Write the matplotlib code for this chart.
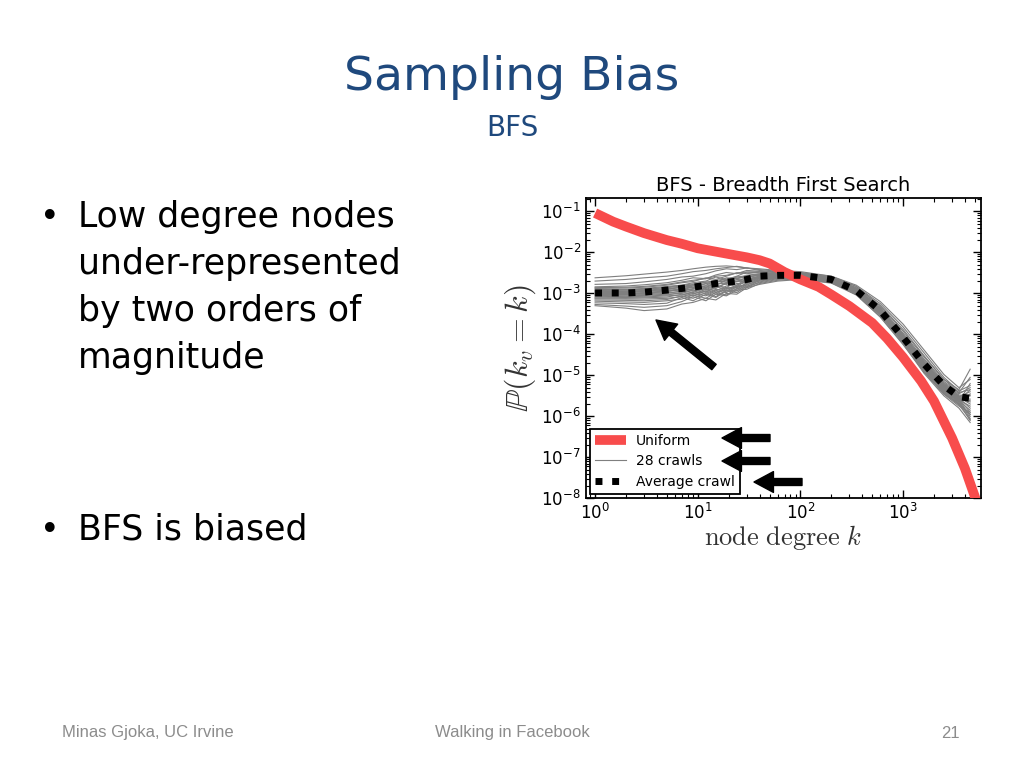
import matplotlib
matplotlib.use('Agg')
import matplotlib.pyplot as plt
import numpy as np

# ---------------- data (log10 of P) ----------------
k_uniform = [1, 1.5, 2, 3, 5, 7, 10, 20, 30, 40, 50, 70, 100, 150, 200, 300,
             500, 700, 1000, 1500, 2000, 3000, 4000, 5000, 5500]
logp_uniform = [-1.04, -1.25, -1.37, -1.53, -1.70, -1.79, -1.90, -2.04, -2.12, -2.19,
                -2.27, -2.48, -2.66, -2.84, -3.03, -3.31, -3.72, -4.10, -4.56, -5.14,
                -5.63, -6.53, -7.27, -7.96, -8.30]

k_crawl = [1, 2, 3, 5, 7, 9, 12, 15, 19, 24, 30, 40, 60, 100, 200, 350, 600,
           1000, 1600, 2500, 3500, 4500]
logp_average = [-2.99, -2.99, -2.97, -2.92, -2.88, -2.85, -2.80, -2.76, -2.73, -2.70,
                -2.66, -2.58, -2.56, -2.56, -2.66, -2.93, -3.42, -4.07, -4.72, -5.25,
                -5.52, -5.56]

logp_crawls = [
    [-2.62, -2.57, -2.53, -2.48, -2.44, -2.40, -2.36, -2.34, -2.33, -2.35, -2.38, -2.40, -2.44, -2.47, -2.58, -2.83, -3.30, -3.92, -4.55, -5.10, -5.35, -4.85],
    [-2.70, -2.66, -2.62, -2.58, -2.52, -2.47, -2.44, -2.40, -2.37, -2.34, -2.38, -2.42, -2.46, -2.49, -2.61, -2.87, -3.34, -3.97, -4.60, -5.15, -5.42, -5.05],
    [-2.78, -2.76, -2.72, -2.66, -2.60, -2.58, -2.52, -2.45, -2.40, -2.42, -2.38, -2.44, -2.48, -2.50, -2.62, -2.89, -3.36, -4.00, -4.63, -5.18, -5.45, -5.30],
    [-2.84, -2.82, -2.79, -2.74, -2.68, -2.62, -2.64, -2.55, -2.49, -2.52, -2.44, -2.46, -2.50, -2.52, -2.63, -2.90, -3.38, -4.02, -4.66, -5.20, -5.48, -5.50],
    [-2.88, -2.87, -2.85, -2.80, -2.74, -2.71, -2.62, -2.66, -2.58, -2.50, -2.52, -2.48, -2.52, -2.53, -2.64, -2.91, -3.40, -4.04, -4.68, -5.22, -5.50, -5.62],
    [-2.91, -2.90, -2.88, -2.83, -2.80, -2.74, -2.70, -2.60, -2.66, -2.58, -2.48, -2.50, -2.53, -2.54, -2.65, -2.92, -3.41, -4.05, -4.70, -5.24, -5.52, -5.40],
    [-2.93, -2.92, -2.90, -2.86, -2.82, -2.80, -2.72, -2.74, -2.62, -2.64, -2.56, -2.52, -2.54, -2.55, -2.65, -2.92, -3.42, -4.06, -4.71, -5.25, -5.53, -5.70],
    [-2.95, -2.94, -2.93, -2.88, -2.86, -2.78, -2.80, -2.70, -2.72, -2.60, -2.62, -2.54, -2.55, -2.55, -2.66, -2.93, -3.42, -4.07, -4.72, -5.26, -5.54, -5.48],
    [-2.97, -2.96, -2.95, -2.90, -2.84, -2.86, -2.76, -2.80, -2.68, -2.72, -2.60, -2.56, -2.56, -2.56, -2.66, -2.93, -3.43, -4.08, -4.73, -5.27, -5.55, -5.80],
    [-2.98, -2.98, -2.96, -2.92, -2.90, -2.82, -2.86, -2.74, -2.78, -2.66, -2.68, -2.57, -2.56, -2.56, -2.67, -2.94, -3.43, -4.08, -4.74, -5.28, -5.56, -5.58],
    [-3.00, -3.00, -2.98, -2.94, -2.92, -2.90, -2.82, -2.88, -2.74, -2.80, -2.64, -2.59, -2.57, -2.57, -2.67, -2.94, -3.44, -4.09, -4.75, -5.29, -5.57, -5.90],
    [-3.01, -3.01, -2.99, -2.96, -2.88, -2.94, -2.88, -2.80, -2.86, -2.70, -2.72, -2.60, -2.57, -2.57, -2.67, -2.94, -3.44, -4.09, -4.75, -5.30, -5.58, -5.65],
    [-3.02, -3.03, -3.01, -2.98, -2.96, -2.88, -2.92, -2.86, -2.76, -2.84, -2.68, -2.61, -2.58, -2.57, -2.68, -2.95, -3.45, -4.10, -4.76, -5.31, -5.59, -6.00],
    [-3.04, -3.04, -3.03, -3.00, -2.94, -2.98, -2.86, -2.94, -2.82, -2.76, -2.74, -2.62, -2.58, -2.58, -2.68, -2.95, -3.45, -4.10, -4.77, -5.32, -5.60, -5.75],
    [-3.05, -3.06, -3.05, -3.02, -3.00, -2.92, -2.96, -2.84, -2.90, -2.80, -2.70, -2.63, -2.59, -2.58, -2.68, -2.96, -3.46, -4.11, -4.78, -5.33, -5.61, -5.35],
    [-3.07, -3.08, -3.07, -3.04, -2.98, -3.02, -2.90, -2.98, -2.86, -2.86, -2.76, -2.64, -2.59, -2.58, -2.69, -2.96, -3.46, -4.12, -4.79, -5.34, -5.62, -6.05],
    [-3.09, -3.10, -3.09, -3.06, -3.04, -2.96, -3.00, -2.90, -2.94, -2.82, -2.80, -2.66, -2.60, -2.59, -2.69, -2.97, -3.47, -4.12, -4.80, -5.35, -5.63, -5.85],
    [-3.11, -3.12, -3.11, -3.09, -3.02, -3.06, -2.94, -3.02, -2.88, -2.90, -2.74, -2.67, -2.61, -2.59, -2.70, -2.97, -3.47, -4.13, -4.81, -5.36, -5.64, -5.20],
    [-3.13, -3.14, -3.14, -3.12, -3.08, -3.00, -3.06, -2.94, -2.98, -2.84, -2.84, -2.68, -2.62, -2.60, -2.70, -2.98, -3.48, -4.14, -4.82, -5.37, -5.66, -6.10],
    [-3.16, -3.17, -3.18, -3.15, -3.06, -3.12, -2.98, -3.08, -2.92, -2.94, -2.78, -2.70, -2.63, -2.61, -2.71, -2.99, -3.49, -4.15, -4.84, -5.39, -5.68, -5.95],
    [-3.19, -3.21, -3.22, -3.18, -3.14, -3.04, -3.12, -2.98, -3.04, -2.88, -2.86, -2.72, -2.64, -2.62, -2.72, -3.00, -3.50, -4.16, -4.86, -5.41, -5.70, -5.45],
    [-3.23, -3.25, -3.27, -3.24, -3.10, -3.18, -3.02, -3.10, -2.94, -2.98, -2.82, -2.74, -2.66, -2.63, -2.73, -3.01, -3.52, -4.18, -4.88, -5.43, -5.72, -6.08],
    [-3.27, -3.31, -3.34, -3.30, -3.20, -3.08, -3.18, -3.02, -3.06, -2.92, -2.90, -2.76, -2.68, -2.64, -2.74, -3.02, -3.54, -4.20, -4.91, -5.46, -5.75, -5.90],
    [-3.30, -3.36, -3.42, -3.38, -3.26, -3.22, -3.12, -3.16, -3.00, -3.02, -2.86, -2.78, -2.70, -2.66, -2.75, -3.04, -3.57, -4.23, -4.95, -5.50, -5.80, -6.15],
    [-2.86, -2.85, -2.83, -2.78, -2.72, -2.68, -2.64, -2.58, -2.56, -2.50, -2.48, -2.47, -2.48, -2.50, -2.58, -2.80, -3.20, -3.75, -4.38, -4.98, -5.30, -5.10],
    [-2.96, -2.95, -2.94, -2.90, -2.85, -2.82, -2.76, -2.72, -2.68, -2.64, -2.60, -2.55, -2.54, -2.53, -2.60, -2.83, -3.25, -3.82, -4.45, -5.05, -5.38, -5.25],
    [-3.03, -3.02, -3.00, -2.95, -2.90, -2.86, -2.82, -2.78, -2.74, -2.70, -2.66, -2.60, -2.59, -2.60, -2.72, -3.03, -3.58, -4.25, -4.92, -5.45, -5.70, -5.95],
    [-2.92, -2.91, -2.90, -2.85, -2.80, -2.77, -2.73, -2.68, -2.65, -2.60, -2.57, -2.53, -2.52, -2.52, -2.62, -2.86, -3.30, -3.88, -4.52, -5.10, -5.42, -5.35],
]

W, H = 1024, 768
slide_font = 'DejaVu Sans'

def px(x, y):
    # image pixel (from top-left) -> figure fraction
    return x / W, 1 - y / H

fig = plt.figure(figsize=(10.24, 7.68), dpi=100)
fig.patch.set_facecolor('white')

# ---------------- slide text ----------------
fig.text(*px(512, 78), 'Sampling Bias', ha='center', va='center',
         fontsize=34, color='#1f497d', family=slide_font)
fig.text(*px(512, 128), 'BFS', ha='center', va='center',
         fontsize=20, color='#1f497d', family=slide_font)

bullet_lines = [('Low degree nodes', 227, True), ('under-represented', 274, False),
                ('by two orders of', 321, False), ('magnitude', 368, False),
                ('BFS is biased', 540, True)]
for txt, yb, first in bullet_lines:
    if first:
        fig.text(*px(40, yb), '\u2022', ha='left', va='baseline', fontsize=24, family=slide_font)
    fig.text(*px(78, yb), txt, ha='left', va='baseline', fontsize=25, family=slide_font)

fig.text(*px(62, 733), 'Minas Gjoka, UC Irvine', ha='left', va='center',
         fontsize=12, color='#8c8c8c', family='Liberation Sans')
fig.text(*px(512, 733), 'Walking in Facebook', ha='center', va='center',
         fontsize=12, color='#8c8c8c', family='Liberation Sans')
fig.text(*px(960, 733), '21', ha='right', va='center',
         fontsize=12, color='#8c8c8c', family='Liberation Sans')

# ---------------- chart ----------------
ax = fig.add_axes([585.7 / W, 1 - 498.3 / H, (980.7 - 585.7) / W, (498.3 - 198.3) / H])

for row in logp_crawls:
    ax.plot(k_crawl, 10 ** np.array(row), color='#7f7f7f', lw=0.8, zorder=2)
ax.plot([], [], color='#7f7f7f', lw=0.8, label='28 crawls')

ax.plot(k_uniform, 10 ** np.array(logp_uniform), color='#f84c4c', lw=7,
        solid_capstyle='butt', solid_joinstyle='round', zorder=3, label='Uniform')
ax.plot(k_crawl, 10 ** np.array(logp_average), color='black', lw=5,
        dashes=(1.0, 1.4), zorder=4, label='Average crawl')

ax.set_xscale('log')
ax.set_yscale('log')
ax.set_xlim(0.81, 5700)
ax.set_ylim(1e-8, 10 ** -0.68)

ax.tick_params(which='both', direction='in', top=True, right=True, labelsize=12)
ax.tick_params(which='major', length=6, width=1)
ax.tick_params(which='minor', length=3, width=0.8)
for s in ax.spines.values():
    s.set_linewidth(1.3)

ax.set_title('BFS - Breadth First Search', fontsize=14, pad=5)
ax.set_ylabel(r'$\mathbb{P}(k_v = k)$', fontsize=23, color='#333333',
              math_fontfamily='cm', labelpad=2)
ax.set_xlabel(r'$\mathrm{node\ degree}\ k$', fontsize=19, color='#333333',
              math_fontfamily='cm', labelpad=0)

h, l = ax.get_legend_handles_labels()
order = [l.index('Uniform'), l.index('28 crawls'), l.index('Average crawl')]
leg = ax.legend([h[i] for i in order], [l[i] for i in order], loc='lower left',
                fontsize=10, fancybox=False, framealpha=1, edgecolor='black',
                borderaxespad=0.3, labelspacing=0.45, handlelength=2.2,
                handletextpad=0.7, borderpad=0.4)
leg.get_frame().set_linewidth(1.3)

# ---------------- black annotation arrows on the slide ----------------
arrows = [((714, 367), (656, 320)), ((770, 438), (722, 438)),
          ((770, 461), (722, 461)), ((802, 482), (754, 482))]
for (x0, y0), (x1, y1) in arrows:
    an = ax.annotate('', xy=(x1, H - y1), xytext=(x0, H - y0), xycoords='figure pixels',
                     textcoords='figure pixels', annotation_clip=False,
                     arrowprops=dict(facecolor='black', edgecolor='black', width=5,
                                     headwidth=15, headlength=14, shrink=0))
    an.set_zorder(10)

fig.savefig('out.png', dpi=100)
